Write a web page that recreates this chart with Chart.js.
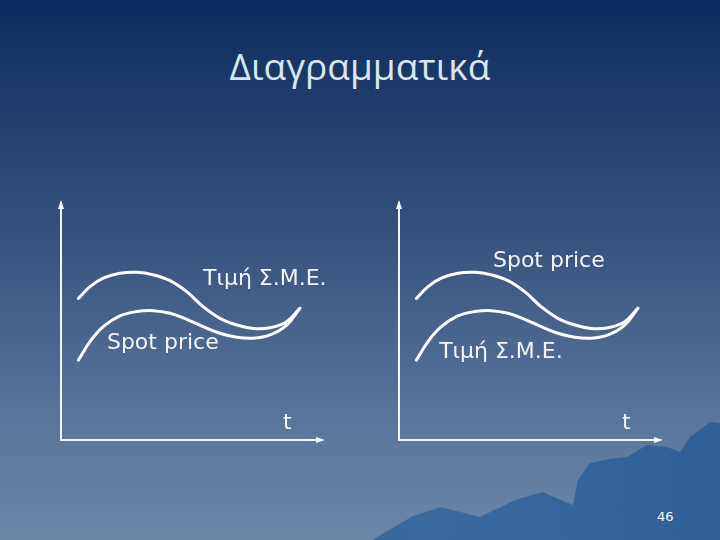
<!DOCTYPE html>
<html>
<head>
<meta charset="utf-8">
<script src="https://cdn.jsdelivr.net/npm/chart.js@4"></script>
<style>
  html, body { margin: 0; padding: 0; }
  body {
    width: 720px; height: 540px; overflow: hidden; position: relative;
    background: linear-gradient(to bottom, #0a2c5e 0%, #1b3a69 15%, #36547e 45%, #56739a 75%, #6b87a8 100%);
    font-family: "DejaVu Sans", sans-serif;
  }
  #title {
    position: absolute; left: 0; top: 40px; width: 720px; text-align: center;
    font-family: "Open Sans", sans-serif; font-size: 37px; color: #d9e5f1;
  }
  #mountains {
    position: absolute; left: 0; top: 0; width: 720px; height: 540px;
    background: linear-gradient(to right, #2f5d92, #3a6a9e 60%, #2f5f95);
    clip-path: polygon(372px 540px, 413px 516px, 441px 507px, 480px 517px, 515px 500px, 543px 492px, 556px 498px, 573px 505px, 578px 480px, 590px 463px, 610px 459px, 627px 457px, 647px 445px, 667px 447px, 680px 452px, 690px 437px, 710px 422px, 720px 423px, 720px 540px);
  }
  .box { position: absolute; top: 180px; width: 310px; height: 280px; }
  #left { left: 40px; }
  #right { left: 378px; }
  #page { position: absolute; left: 657px; top: 509px; font-size: 13px; color: #ffffff; }
</style>
</head>
<body>
<div id="mountains"></div>
<div id="title">Διαγραμματικά</div>
<div class="box" id="left"><canvas id="chartLeft" width="310" height="280"></canvas></div>
<div class="box" id="right"><canvas id="chartRight" width="310" height="280"></canvas></div>
<div id="page">46</div>
<script>
// Καμπύλες (μονάδες άξονα 0-10)
const xCurve = [0.66, 1.10, 1.60, 2.23, 2.87, 3.50, 4.13, 4.76, 5.39, 6.02, 6.66, 7.28, 7.92, 8.55, 9.05];
const yUpper = [5.90, 6.39, 6.74, 6.95, 6.99, 6.88, 6.64, 6.18, 5.55, 5.07, 4.79, 4.65, 4.68, 4.93, 5.49];
const yLower = [3.33, 4.10, 4.72, 5.17, 5.35, 5.39, 5.28, 5.03, 4.72, 4.45, 4.28, 4.24, 4.38, 4.79, 5.49];

// Ετικέτες κάθε διαγράμματος
const labelsLeft = ["Τιμή Σ.Μ.Ε.", "Spot price", "t"];
const labelsRight = ["Spot price", "Τιμή Σ.Μ.Ε.", "t"];
const labelPosLeft = [[5.38, 6.46], [1.74, 3.79], [8.41, 0.46]];
const labelPosRight = [[3.56, 7.21], [1.52, 3.42], [8.45, 0.46]];

function toPoints(xs, ys) {
  return xs.map(function (x, i) { return { x: x, y: ys[i] }; });
}

// Άξονες με βέλη και κείμενα
const axesPlugin = {
  id: "axesArrows",
  afterDatasetsDraw(chart, args, opts) {
    const ctx = chart.ctx;
    const a = chart.chartArea;
    const sx = chart.scales.x, sy = chart.scales.y;
    ctx.save();
    ctx.strokeStyle = "#f4f4f4";
    ctx.fillStyle = "#f4f4f4";
    ctx.lineWidth = 2;
    ctx.beginPath();
    ctx.moveTo(a.left, a.top + 2);
    ctx.lineTo(a.left, a.bottom);
    ctx.lineTo(a.right - 2, a.bottom);
    ctx.stroke();
    // βέλος πάνω
    ctx.beginPath();
    ctx.moveTo(a.left, a.top);
    ctx.lineTo(a.left - 3, a.top + 9);
    ctx.lineTo(a.left + 3, a.top + 9);
    ctx.closePath();
    ctx.fill();
    // βέλος δεξιά
    ctx.beginPath();
    ctx.moveTo(a.right, a.bottom);
    ctx.lineTo(a.right - 9, a.bottom - 3);
    ctx.lineTo(a.right - 9, a.bottom + 3);
    ctx.closePath();
    ctx.fill();

    ctx.font = "22px 'DejaVu Sans'";
    ctx.textAlign = "left";
    ctx.textBaseline = "alphabetic";
    opts.texts.forEach(function (t, i) {
      const p = opts.pos[i];
      ctx.fillText(t, sx.getPixelForValue(p[0]), sy.getPixelForValue(p[1]));
    });
    ctx.restore();
  }
};

function makeChart(id, texts, pos) {
  const ctx = document.getElementById(id).getContext("2d");
  return new Chart(ctx, {
    type: "line",
    data: {
      datasets: [
        { data: toPoints(xCurve, yUpper) },
        { data: toPoints(xCurve, yLower) }
      ]
    },
    options: {
      responsive: false,
      animation: false,
      layout: { padding: { left: 21, top: 20, right: 25, bottom: 20 } },
      elements: {
        line: { borderColor: "#ffffff", borderWidth: 3, tension: 0.4, fill: false, borderCapStyle: "round" },
        point: { radius: 0 }
      },
      plugins: {
        legend: { display: false },
        tooltip: { enabled: false },
        axesArrows: { texts: texts, pos: pos }
      },
      scales: {
        x: { type: "linear", min: 0, max: 10, display: false },
        y: { type: "linear", min: 0, max: 10, display: false }
      }
    },
    plugins: [axesPlugin]
  });
}

makeChart("chartLeft", labelsLeft, labelPosLeft);
makeChart("chartRight", labelsRight, labelPosRight);
</script>
</body>
</html>
